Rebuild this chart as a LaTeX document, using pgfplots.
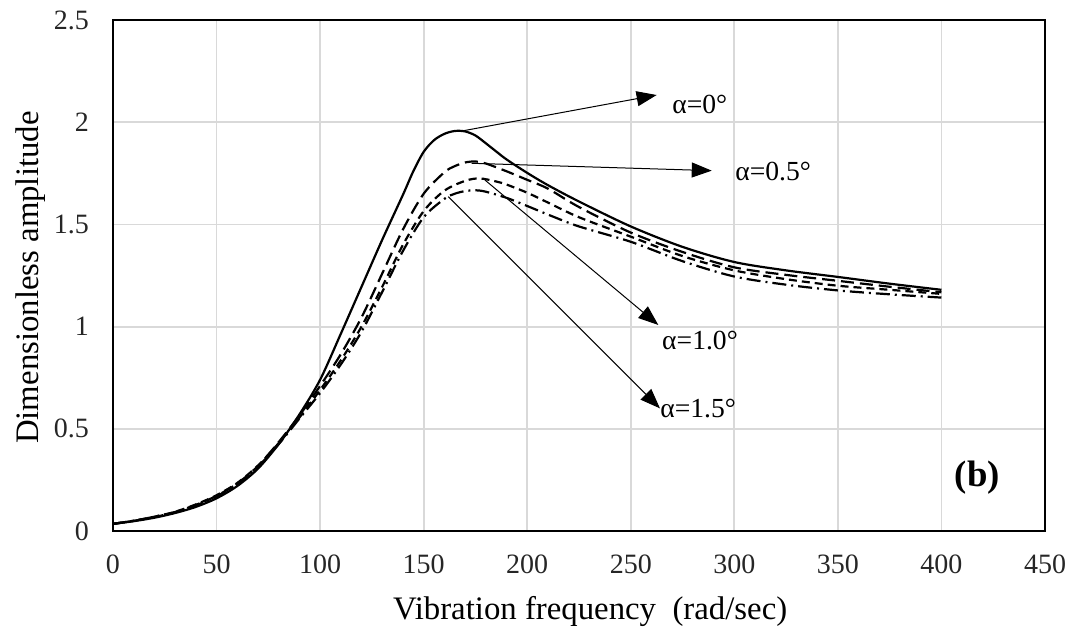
\documentclass[border=0pt]{standalone}
\usepackage{fontspec}
\setmainfont{Liberation Serif}
\usepackage{pgfplots}
\pgfplotsset{compat=1.18}
\usetikzlibrary{arrows.meta}
\definecolor{gridgray}{RGB}{217,217,217}

\begin{document}
\begin{tikzpicture}
\useasboundingbox (-56.5pt,-48.5pt) rectangle (482.5pt,265.5pt);
\begin{axis}[
  at={(0,0)}, anchor=south west,
  width=466pt, height=255.5pt, scale only axis,
  xmin=0, xmax=450, ymin=0, ymax=2.5,
  xtick={0,50,...,450}, ytick={0,0.5,1,1.5,2,2.5},
  yticklabels={0,0.5,1,1.5,2,2.5},
  grid=major,
  major grid style={draw=gridgray, line width=0.9pt},
  axis line style={black, line width=1.3pt},
  major tick length=0pt,
  /pgf/number format/assume math mode=true,
  tick label style={font=\fontsize{14}{16}\selectfont, text=black!85},
  xticklabel style={yshift=-8.5pt},
  yticklabel style={xshift=-8.5pt},
  xlabel={Vibration frequency\ \ (rad/sec)},
  ylabel={Dimensionless amplitude},
  xlabel style={font=\fontsize{16.4}{19}\selectfont, at={([yshift=-44pt]axis description cs:0.512,0)}, anchor=base},
  ylabel style={font=\fontsize{16.4}{19}\selectfont, at={([xshift=-37pt]axis description cs:0,0.496)}, anchor=base, rotate=0},
  clip=false,
]
% alpha = 0 (solid)
\addplot[black, line width=1.1pt, smooth, tension=0.5] coordinates {
(0,0.035) (10,0.048) (20,0.065) (30,0.088) (40,0.118) (50,0.16) (60,0.22) (70,0.305)
(80,0.425) (90,0.57) (100,0.74) (110,0.965) (120,1.195) (130,1.425) (140,1.645) (145,1.76)
(150,1.855) (155,1.912) (160,1.943) (165,1.957) (170,1.955) (175,1.935) (180,1.897)
(185,1.857) (190,1.818) (200,1.752) (210,1.692) (225,1.612) (250,1.49) (275,1.39) (300,1.316) (325,1.275)
(350,1.243) (375,1.21) (400,1.18)};
% alpha = 0.5 (long dash)
\addplot[black, line width=1.1pt, smooth, tension=0.5, dash pattern=on 6.5pt off 3pt] coordinates {
(0,0.035) (10,0.05) (20,0.068) (30,0.093) (40,0.128) (50,0.172) (60,0.232) (70,0.318)
(80,0.435) (90,0.565) (100,0.71) (110,0.865) (120,1.045) (130,1.26) (140,1.475) (150,1.65)
(160,1.755) (165,1.785) (170,1.803) (175,1.808) (180,1.798) (190,1.76) (200,1.718)
(210,1.675) (225,1.585) (250,1.46) (275,1.365) (300,1.29) (325,1.253) (350,1.224)
(375,1.195) (400,1.168)};
% alpha = 1.0 (dash)
\addplot[black, line width=1.1pt, smooth, tension=0.5, dash pattern=on 4pt off 2.5pt] coordinates {
(0,0.035) (10,0.05) (20,0.07) (30,0.094) (40,0.13) (50,0.175) (60,0.235) (70,0.32)
(80,0.43) (90,0.555) (100,0.69) (110,0.835) (120,1.0) (130,1.195) (140,1.40) (150,1.565)
(160,1.665) (170,1.713) (177,1.725) (185,1.71) (190,1.695) (200,1.655) (210,1.607)
(225,1.535) (250,1.44) (275,1.345) (300,1.275) (325,1.232) (350,1.20) (375,1.18)
(400,1.16)};
% alpha = 1.5 (dash dot)
\addplot[black, line width=1.1pt, smooth, tension=0.5, dash pattern=on 7pt off 2.5pt on 1pt off 2.5pt] coordinates {
(0,0.035) (10,0.05) (20,0.07) (30,0.092) (40,0.125) (50,0.17) (60,0.23) (70,0.315)
(80,0.425) (90,0.55) (100,0.675) (110,0.815) (120,0.975) (130,1.17) (140,1.37) (150,1.535)
(160,1.625) (165,1.65) (170,1.663) (175,1.667) (180,1.66) (190,1.63) (200,1.59)
(212,1.54) (225,1.49) (250,1.415) (275,1.32) (300,1.245) (325,1.205) (350,1.177)
(375,1.158) (400,1.142)};

% annotations
\draw[black, line width=0.5pt, -{Triangle[length=10pt,width=7.5pt]}] (axis cs:169,1.958) -- (axis cs:262.5,2.133);
\draw[black, line width=0.5pt, -{Triangle[length=10pt,width=7.5pt]}] (axis cs:173.2,1.799) -- (axis cs:289.1,1.763);
\draw[black, line width=0.5pt, -{Triangle[length=10pt,width=7.5pt]}] (axis cs:179.6,1.717) -- (axis cs:263.3,1.008);
\draw[black, line width=0.5pt, -{Triangle[length=10pt,width=7.5pt]}] (axis cs:161.9,1.636) -- (axis cs:264.1,0.600);
\node[anchor=base west, inner sep=0pt, font=\fontsize{13.8}{16}\selectfont] at (axis cs:269.9,2.045) {α=0°};
\node[anchor=base west, inner sep=0pt, font=\fontsize{13.8}{16}\selectfont] at (axis cs:300.3,1.717) {α=0.5°};
\node[anchor=base west, inner sep=0pt, font=\fontsize{13.8}{16}\selectfont] at (axis cs:265,0.886) {α=1.0°};
\node[anchor=base west, inner sep=0pt, font=\fontsize{13.8}{16}\selectfont] at (axis cs:264.1,0.556) {α=1.5°};
\node[inner sep=0pt, font=\fontsize{18.4}{22}\selectfont\bfseries] at (axis cs:417.4,0.26) {(b)};
\end{axis}
\end{tikzpicture}
\end{document}
